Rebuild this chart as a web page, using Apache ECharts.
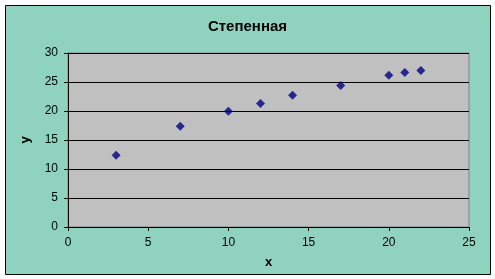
<!DOCTYPE html>
<html>
<head>
<meta charset="utf-8">
<script src="https://cdn.jsdelivr.net/npm/echarts@6/dist/echarts.min.js"></script>
<style>
  html, body { margin: 0; padding: 0; background: #fff; }
  #chart { width: 495px; height: 279px; }
</style>
</head>
<body>
<div id="chart"></div>
<script>
// точки степенной зависимости
const xValues = [3, 7, 10, 12, 14, 17, 20, 21, 22]
const yValues = [12.35, 17.35, 19.95, 21.3, 22.7, 24.4, 26.15, 26.65, 27.0]
const titleText = 'Степенная'
const xName = 'x'
const yName = 'y'

const points = xValues.map((x, i) => [x, yValues[i]])

const chart = echarts.init(document.getElementById('chart'))
chart.setOption({
  backgroundColor: '#fff',
  animation: false,
  graphic: [
    {
      type: 'rect',
      shape: { x: 5.5, y: 5.5, width: 485, height: 269 },
      style: { fill: '#8FD3BE', stroke: '#000', lineWidth: 1 },
      z: -10
    }
  ],
  title: {
    text: titleText,
    left: 'center',
    top: 14,
    textStyle: { fontFamily: 'Liberation Sans', fontSize: 15, fontWeight: 'bold', color: '#000' }
  },
  grid: {
    left: 68,
    right: 26,
    top: 53,
    bottom: 52,
    show: true,
    backgroundColor: '#C0C0C0',
    borderColor: '#808080',
    borderWidth: 1
  },
  xAxis: {
    type: 'value',
    min: 0,
    max: 25,
    interval: 5,
    name: xName,
    nameLocation: 'middle',
    nameGap: 29,
    nameTextStyle: { fontFamily: 'Liberation Sans', fontSize: 13, fontWeight: 'bold', color: '#000' },
    axisLine: { show: true, onZero: false, lineStyle: { color: '#000', width: 1 } },
    axisTick: { show: true, inside: false, length: 4, lineStyle: { color: '#000' } },
    axisLabel: { margin: 10, fontFamily: 'Liberation Sans', fontSize: 12, color: '#000' },
    splitLine: { show: false }
  },
  yAxis: {
    type: 'value',
    min: 0,
    max: 30,
    interval: 5,
    name: yName,
    nameLocation: 'middle',
    nameGap: 36,
    nameTextStyle: { fontFamily: 'Liberation Sans', fontSize: 13, fontWeight: 'bold', color: '#000' },
    axisLine: { show: true, onZero: false, lineStyle: { color: '#000', width: 1 } },
    axisTick: { show: true, inside: false, length: 4, lineStyle: { color: '#000' } },
    axisLabel: { margin: 10, fontFamily: 'Liberation Sans', fontSize: 12, color: '#000' },
    splitLine: { show: true, lineStyle: { color: '#000', width: 1 } }
  },
  series: [
    {
      type: 'scatter',
      data: points,
      symbol: 'diamond',
      symbolSize: 9,
      itemStyle: { color: '#000080' }
    }
  ]
})
</script>
</body>
</html>
